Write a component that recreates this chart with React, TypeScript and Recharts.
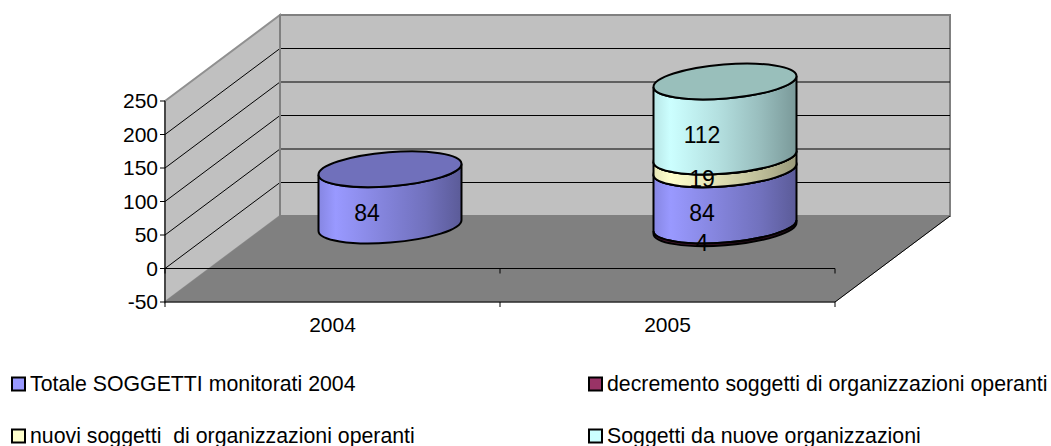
import { Bar, ComposedChart, Customized, LabelList, XAxis, YAxis } from "recharts"

const years = ["2004", "2005"]
const totale = [84, 84]
const decremento = [null, -4]
const nuovi = [null, 19]
const soggetti = [null, 112]
const yTicks = [-50, 0, 50, 100, 150, 200, 250]

const legendNames = [
  "Totale SOGGETTI monitorati 2004",
  "decremento soggetti di organizzazioni operanti",
  "nuovi soggetti  di organizzazioni operanti",
  "Soggetti da nuove organizzazioni",
]
const legendColors = ["#9999ff", "#993366", "#ffffcc", "#ccffff"]

const chartData = years.map((year, i) => ({
  year,
  totale: totale[i],
  decremento: decremento[i],
  nuovi: nuovi[i],
  soggetti: soggetti[i],
}))

const FONT = "'Liberation Sans', Arial, sans-serif"
const FONT_SIZE = 21

// plot box of the front plane, and how far the 3d box goes back
const LEFT = 165
const RIGHT = 835
const TOP = 101
const BOTTOM = 302
const DEPTH_X = 115
const DEPTH_Y = -86
const BAR_DY = -43
const X_AXIS_HEIGHT = 40

const RX = 71.7
const RY = 17
const TILT = -4.6
const EDGE_DY = 5.5

const gradients = [
  { id: "blue", stops: ["#8686e2", "#9999ff", "#8484dc", "#7171bd", "#5b5b98"] },
  { id: "red", stops: ["#3a1026", "#4d1a33", "#401428", "#331122", "#260d1a"] },
  { id: "yellow", stops: ["#e6e6b8", "#ffffcc", "#e0e0b4", "#bdbd98", "#99997a"] },
  { id: "cyan", stops: ["#b8e6e6", "#ccffff", "#b4e0e0", "#98bdbd", "#7a9999"] },
]
const stopAt = ["0%", "12%", "45%", "75%", "100%"]

function yOf(v: number) {
  return BOTTOM - ((v + 50) / 300) * (BOTTOM - TOP)
}

function Room() {
  const bx = LEFT + DEPTH_X
  const by = BOTTOM + DEPTH_Y
  const tY = TOP + DEPTH_Y
  const z = yOf(0)
  return (
    <g>
      <defs>
        {gradients.map((g) => (
          <linearGradient key={g.id} id={g.id} x1="0" y1="0" x2="1" y2="0">
            {g.stops.map((c, i) => (
              <stop key={i} offset={stopAt[i]} stopColor={c} />
            ))}
          </linearGradient>
        ))}
      </defs>
      <polygon
        points={`${bx},${tY} ${RIGHT + DEPTH_X},${tY} ${RIGHT + DEPTH_X},${by} ${bx},${by}`}
        fill="#c0c0c0"
        stroke="#808080"
        strokeWidth={2}
      />
      <polygon
        points={`${LEFT},${TOP} ${bx},${tY} ${bx},${by} ${LEFT},${BOTTOM}`}
        fill="#c0c0c0"
        stroke="#909090"
        strokeWidth={2}
      />
      {yTicks
        .filter((t) => t > -50 && t < 250)
        .map((t) => (
          <g key={t}>
            <line x1={LEFT} y1={yOf(t)} x2={bx} y2={yOf(t) + DEPTH_Y} stroke="#000" strokeWidth={1} />
            <line x1={bx} y1={yOf(t) + DEPTH_Y} x2={RIGHT + DEPTH_X} y2={yOf(t) + DEPTH_Y} stroke="#000" strokeWidth={1} />
          </g>
        ))}
      <line x1={bx} y1={yOf(250) + DEPTH_Y} x2={bx} y2={by} stroke="#808080" strokeWidth={2} />
      <polygon
        points={`${LEFT},${BOTTOM} ${bx},${by} ${RIGHT + DEPTH_X},${by} ${RIGHT},${BOTTOM}`}
        fill="#808080"
        stroke="#808080"
      />
      <line x1={LEFT} y1={z} x2={RIGHT} y2={z} stroke="#000" />
      <line x1={RIGHT} y1={BOTTOM} x2={RIGHT + DEPTH_X} y2={by} stroke="#000" />
      {[LEFT, (LEFT + RIGHT) / 2, RIGHT].map((x) => (
        <g key={x}>
          <line x1={x} y1={BOTTOM} x2={x} y2={BOTTOM + 5} stroke="#000" />
          <line x1={x} y1={z} x2={x} y2={z + 5} stroke="#000" />
        </g>
      ))}
    </g>
  )
}

function Cylinder(props: any) {
  const { x, y, width, height, value, gradient, topFill, hideTop } = props
  const low = Array.isArray(value) ? value[0] : value
  const high = Array.isArray(value) ? value[1] : value
  if (low == null || high == null || low === high) return null
  const cx = x + width / 2 + DEPTH_X / 2
  const top = Math.min(y, y + height) + BAR_DY
  const bot = Math.max(y, y + height) + BAR_DY
  const hw = width / 2
  const body =
    `M${cx - hw},${top + EDGE_DY} L${cx - hw},${bot + EDGE_DY} ` +
    `A${RX},${RY} ${TILT} 0 0 ${cx + hw},${bot - EDGE_DY} ` +
    `L${cx + hw},${top - EDGE_DY} ` +
    `A${RX},${RY} ${TILT} 0 1 ${cx - hw},${top + EDGE_DY} Z`
  return (
    <g>
      <path d={body} fill={`url(#${gradient})`} stroke="#000" strokeWidth={2} />
      {!hideTop && (
        <ellipse
          cx={cx}
          cy={top}
          rx={RX}
          ry={RY}
          transform={`rotate(${TILT} ${cx} ${top})`}
          fill={topFill}
          stroke="#000"
          strokeWidth={2}
        />
      )}
    </g>
  )
}

function segmentLabel(props: any) {
  const { x, y, width, height, value } = props
  if (value == null) return null
  const mid = y + height / 2 + BAR_DY + 16
  return (
    <text
      x={x + width / 2 + DEPTH_X / 2 - 23}
      y={mid}
      textAnchor="middle"
      dominantBaseline="central"
      fontFamily={FONT}
      fontSize={23}
      fill="#000"
    >
      {Math.abs(value)}
    </text>
  )
}

function LegendBlock() {
  const spots = [
    { x: 11, y: 383.5, textX: 30 },
    { x: 588, y: 383.5, textX: 607 },
    { x: 11, y: 435.5, textX: 30 },
    { x: 588, y: 435.5, textX: 607 },
  ]
  return (
    <g>
      {legendNames.map((name, i) => (
        <g key={name}>
          <rect x={spots[i].x + 1} y={spots[i].y - 6} width={13} height={13} fill={legendColors[i]} stroke="#000" strokeWidth={2} />
          <text x={spots[i].textX} y={spots[i].y} dominantBaseline="central" fontFamily={FONT} fontSize={21.3} fill="#000" style={{ whiteSpace: "pre" }}>
            {name}
          </text>
        </g>
      ))}
    </g>
  )
}

export default function App() {
  return (
    <div style={{ position: "absolute", left: 0, top: 0, width: 1051, height: 446, background: "#fff" }}>
      <ComposedChart
        width={1051}
        height={446}
        data={chartData}
        stackOffset="sign"
        margin={{ top: TOP, right: 1051 - RIGHT, bottom: 446 - BOTTOM - X_AXIS_HEIGHT, left: 105 }}
      >
        <Customized component={Room} />
        <XAxis
          dataKey="year"
          height={X_AXIS_HEIGHT}
          stroke="#000"
          tickLine={false}
          tickMargin={9}
          tick={{ fontFamily: FONT, fontSize: FONT_SIZE, fill: "#000" }}
        />
        <YAxis
          width={60}
          domain={[-50, 250]}
          ticks={yTicks}
          interval={0}
          stroke="#000"
          tickSize={5}
          tickMargin={2}
          tick={{ fontFamily: FONT, fontSize: FONT_SIZE, fill: "#000" }}
        />
        <Bar
          dataKey="totale"
          stackId="a"
          barSize={143}
          isAnimationActive={false}
          shape={(p: any) => <Cylinder {...p} gradient="blue" topFill="#7070bb" />}
        >
          <LabelList dataKey="totale" content={segmentLabel} />
        </Bar>
        <Bar
          dataKey="decremento"
          stackId="a"
          barSize={143}
          isAnimationActive={false}
          shape={(p: any) => <Cylinder {...p} gradient="red" topFill="#772244" hideTop />}
        >
          <LabelList dataKey="decremento" content={segmentLabel} />
        </Bar>
        <Bar
          dataKey="nuovi"
          stackId="a"
          barSize={143}
          isAnimationActive={false}
          shape={(p: any) => <Cylinder {...p} gradient="yellow" topFill="#c8c89c" />}
        >
          <LabelList dataKey="nuovi" content={segmentLabel} />
        </Bar>
        <Bar
          dataKey="soggetti"
          stackId="a"
          barSize={143}
          isAnimationActive={false}
          shape={(p: any) => <Cylinder {...p} gradient="cyan" topFill="#99bfbb" />}
        >
          <LabelList dataKey="soggetti" content={segmentLabel} />
        </Bar>
        <Customized component={LegendBlock} />
      </ComposedChart>
    </div>
  )
}
